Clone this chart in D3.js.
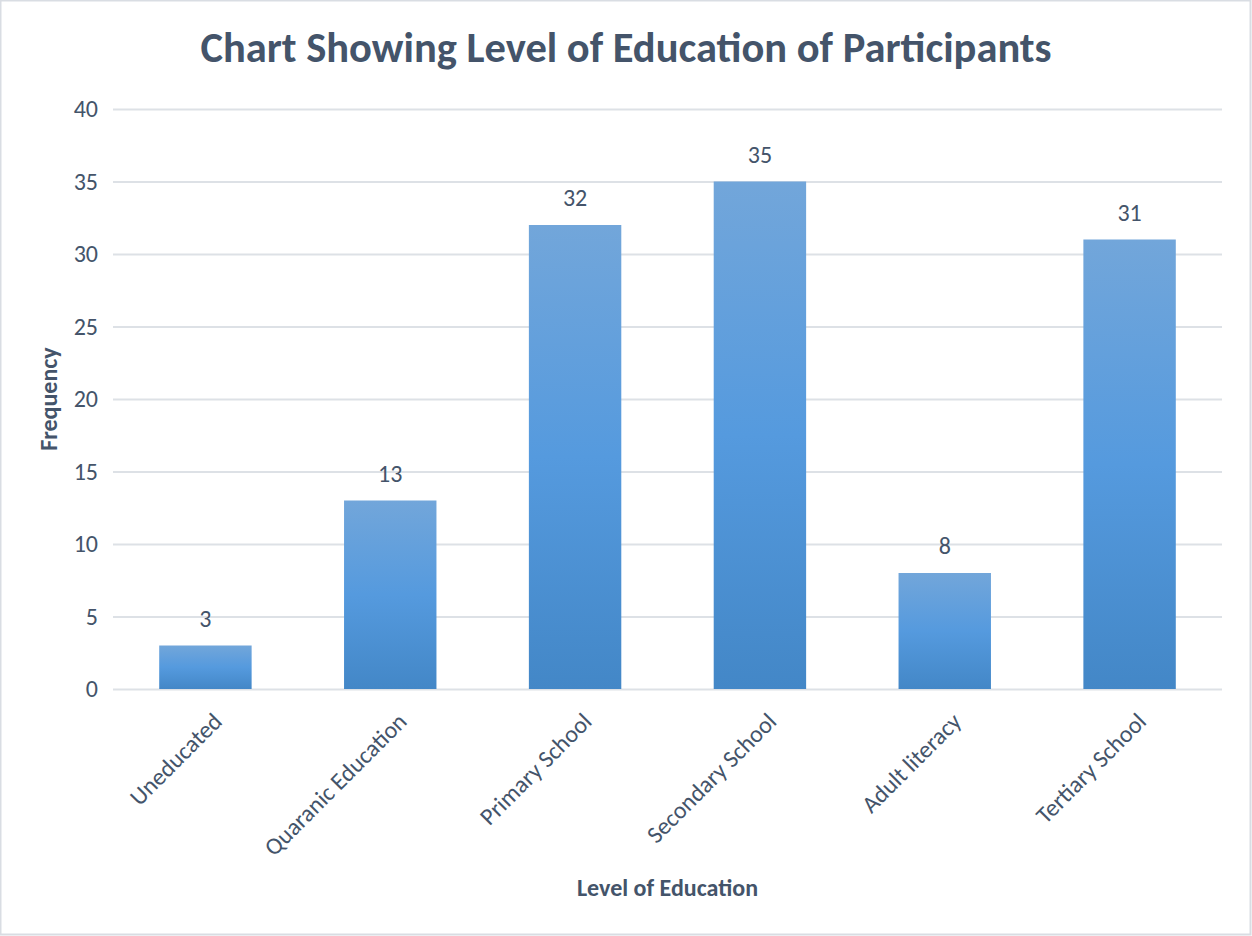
<!DOCTYPE html>
<html>
<head>
<meta charset="utf-8">
<script src="https://cdn.jsdelivr.net/npm/d3@7"></script>
<style>
  html, body { margin: 0; padding: 0; background: #fff; }
  svg { display: block; }
  svg text { font-family: Carlito, Lato, "Open Sans", sans-serif; }
</style>
</head>
<body>
<svg id="chart" width="1252" height="936"></svg>
<script>
// Education levels and participant counts
const categories = ["Uneducated", "Quaranic Education", "Primary School", "Secondary School", "Adult literacy", "Tertiary School"];
const frequencies = [3, 13, 32, 35, 8, 31];
const yTicks = [0, 5, 10, 15, 20, 25, 30, 35, 40];

const W = 1252, H = 936;
const margin = { top: 109, right: 30, bottom: 247, left: 113 };
const textColor = "#44546a";
const labelSize = 24;

const svg = d3.select("#chart");

// outer frame
svg.append("rect")
  .attr("x", 0.5).attr("y", 0.5)
  .attr("width", W - 2).attr("height", H - 2)
  .attr("fill", "#fff").attr("stroke", "#d9dde3").attr("stroke-width", 2);

const x = d3.scaleBand()
  .domain(categories)
  .range([margin.left, W - margin.right])
  .paddingInner(0.5).paddingOuter(0.25);

const y = d3.scaleLinear()
  .domain([0, 40])
  .range([H - margin.bottom, margin.top]);

// bar gradient: lighter at the top, deeper at the base
const defs = svg.append("defs");
const grad = defs.append("linearGradient")
  .attr("id", "barFill").attr("x1", 0).attr("y1", 0).attr("x2", 0).attr("y2", 1);
grad.append("stop").attr("offset", "0%").attr("stop-color", "#72a6da");
grad.append("stop").attr("offset", "50%").attr("stop-color", "#559ade");
grad.append("stop").attr("offset", "100%").attr("stop-color", "#4387c7");

// gridlines
const yAxis = d3.axisLeft(y).tickValues(yTicks)
  .tickSize(-(W - margin.right - margin.left)).tickPadding(15);
const gy = svg.append("g")
  .attr("transform", `translate(${margin.left},0)`)
  .call(yAxis)
  .attr("font-family", null);
gy.select(".domain").remove();
gy.selectAll(".tick line").attr("stroke", "#dde1e6").attr("stroke-width", 2);
gy.selectAll(".tick text")
  .attr("fill", textColor).attr("font-size", labelSize);

// bars
svg.append("g").selectAll("rect")
  .data(frequencies)
  .join("rect")
  .attr("x", (d, i) => x(categories[i]))
  .attr("y", d => y(d))
  .attr("width", x.bandwidth())
  .attr("height", d => y(0) - y(d))
  .attr("fill", "url(#barFill)");

// value labels
svg.append("g").selectAll("text")
  .data(frequencies)
  .join("text")
  .attr("x", (d, i) => x(categories[i]) + x.bandwidth() / 2)
  .attr("y", d => y(d) - 19)
  .attr("text-anchor", "middle")
  .attr("fill", textColor)
  .attr("font-size", labelSize)
  .text(d => d);

// category axis with rotated labels
const xAxis = d3.axisBottom(x).tickSize(0).tickPadding(0);
const gx = svg.append("g")
  .attr("transform", `translate(0,${y(0)})`)
  .call(xAxis)
  .attr("font-family", null);
gx.select(".domain").remove();
gx.selectAll(".tick text")
  .attr("fill", textColor)
  .attr("font-size", labelSize)
  .attr("text-anchor", "end")
  .attr("dy", null)
  .attr("transform", "translate(18,34) rotate(-45)");

// title
svg.append("text")
  .attr("x", 626).attr("y", 62)
  .attr("text-anchor", "middle")
  .attr("fill", textColor)
  .attr("font-size", 42.5).attr("font-weight", "bold")
  .text("Chart Showing Level of Education of Participants");

// axis titles
svg.append("text")
  .attr("x", (margin.left + W - margin.right) / 2).attr("y", 896)
  .attr("text-anchor", "middle")
  .attr("fill", textColor)
  .attr("font-size", 24).attr("font-weight", "bold")
  .text("Level of Education");

svg.append("text")
  .attr("transform", `translate(57,${(y(0) + y(40)) / 2}) rotate(-90)`)
  .attr("text-anchor", "middle")
  .attr("fill", textColor)
  .attr("font-size", 24).attr("font-weight", "bold")
  .text("Frequency");
</script>
</body>
</html>
